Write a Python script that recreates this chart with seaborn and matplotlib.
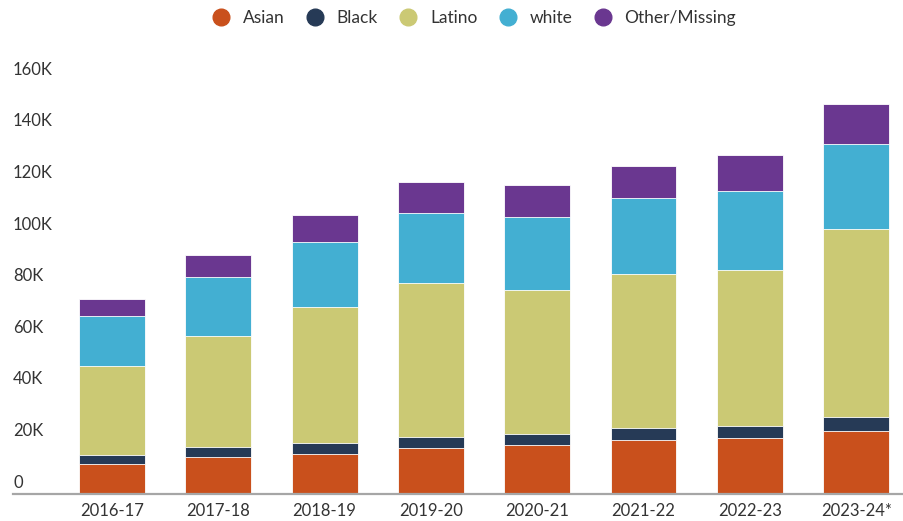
import pandas as pd
import seaborn as sns
import matplotlib.pyplot as plt
from matplotlib.lines import Line2D

# Students by race/ethnicity per school year, in thousands
anos = ["2016-17", "2017-18", "2018-19", "2019-20", "2020-21", "2021-22", "2022-23", "2023-24*"]
asian = [11.8, 14.7, 15.7, 17.9, 19.1, 21.3, 21.8, 24.6]
black = [3.4, 3.6, 4.4, 4.4, 4.3, 4.4, 4.9, 5.4]
latino = [34.5, 43.1, 52.6, 59.7, 55.9, 59.8, 60.4, 72.8]
white = [19.6, 23.0, 25.1, 27.2, 28.4, 29.5, 30.7, 32.9]
other = [6.5, 8.4, 10.5, 11.8, 12.3, 12.3, 13.8, 15.5]

grupos = ["Asian", "Black", "Latino", "white", "Other/Missing"]
cores = ["#C9501C", "#263A56", "#CBC974", "#43AFD2", "#6A3790"]
y_ticks = [0, 20, 40, 60, 80, 100, 120, 140, 160]

df = pd.DataFrame({"ano": anos, "Asian": asian, "Black": black, "Latino": latino,
                   "white": white, "Other/Missing": other})
df[grupos] = df[grupos] * 1000

sns.set_style("white")
plt.rcParams["font.family"] = ["Lato", "DejaVu Sans"]

fig = plt.figure(figsize=(9.04, 5.21), dpi=100)
ax = fig.add_axes([0.0144, 0.0509, 0.9856, 0.7923])

# stacked bars: draw cumulative totals from the top down
acumulado = df[grupos].cumsum(axis=1)
for g, c in reversed(list(zip(grupos, cores))):
    sns.barplot(x=df["ano"], y=acumulado[g], color=c, width=0.62, ax=ax,
                edgecolor="white", linewidth=0.6, saturation=1)

ax.set_xlim(-0.93, 7.45)
ax.set_ylim(0, 160000)
ax.set_xlabel("")
ax.set_ylabel("")
ax.set_yticks([])
for v in y_ticks:
    txt = "0" if v == 0 else f"{v}K"
    ax.annotate(txt, xy=(0, v * 1000), xycoords=("axes fraction", "data"),
                xytext=(0, 8.5), textcoords="offset points",
                ha="left", va="center", fontsize=12, color="#333333")

ax.tick_params(axis="x", length=0, pad=6, labelsize=12, labelcolor="#333333")
for s in ["top", "right", "left"]:
    ax.spines[s].set_visible(False)
ax.spines["bottom"].set_color("#a6a6a6")
ax.spines["bottom"].set_linewidth(1.6)

handles = [Line2D([], [], marker="o", linestyle="", markersize=12,
                  markerfacecolor=c, markeredgecolor=c) for c in cores]
fig.legend(handles, grupos, loc="center", bbox_to_anchor=(0.52, 0.966), ncol=5,
           frameon=False, fontsize=12.5, handletextpad=0.25, columnspacing=0.75,
           labelcolor="#333333")

plt.savefig("out.png", dpi=100)
